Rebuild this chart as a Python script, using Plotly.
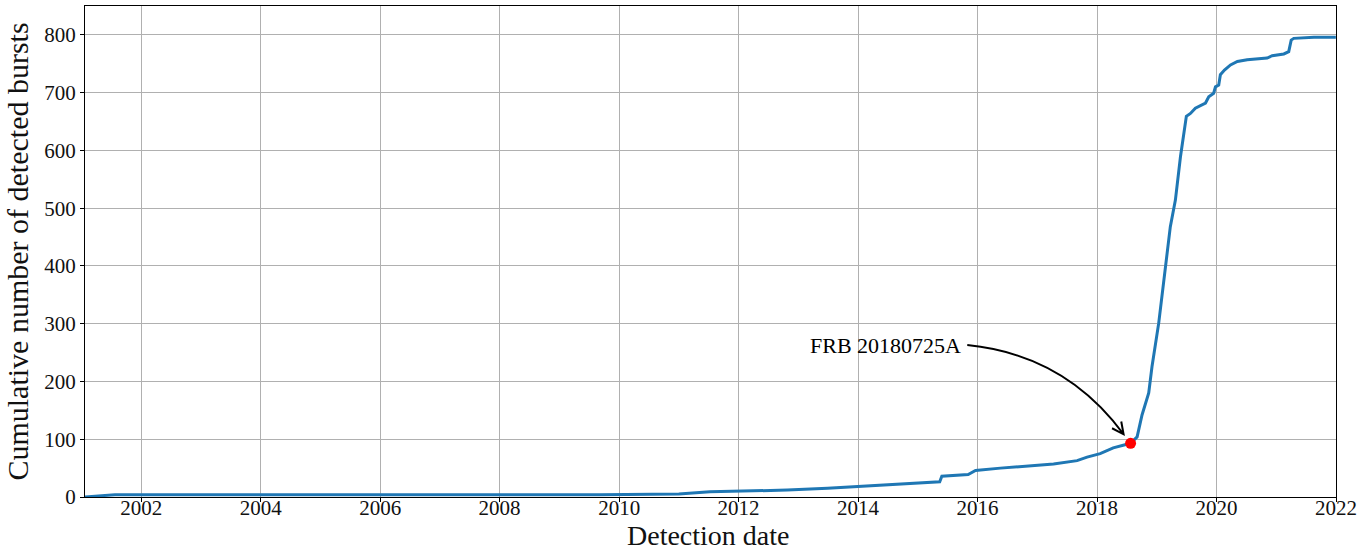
import plotly.graph_objects as go
import pandas as pd
import math

# ---- data ----
dates = ["2001-01-22", "2001-07-24", "2009-09-01", "2011-01-01", "2011-07-10",
         "2012-10-25", "2013-06-28", "2014-01-01", "2014-11-15", "2015-05-15",
         "2015-05-28", "2015-11-05", "2015-12-20", "2016-05-20", "2017-04-10",
         "2017-09-01", "2017-11-01", "2018-01-20", "2018-04-10", "2018-07-25",
         "2018-09-03", "2018-10-03", "2018-11-13", "2018-12-03", "2019-01-13",
         "2019-02-13", "2019-03-05", "2019-03-25", "2019-04-25", "2019-05-15",
         "2019-05-26", "2019-07-01", "2019-07-26", "2019-08-25", "2019-10-26",
         "2019-11-15", "2019-12-15", "2019-12-26", "2020-01-15", "2020-01-25",
         "2020-02-19", "2020-03-27", "2020-05-08", "2020-07-07", "2020-11-06",
         "2020-12-07", "2021-02-16", "2021-03-18", "2021-04-02", "2021-04-18",
         "2021-08-19", "2021-12-31"]
cumulative = [0, 4, 4, 5, 9,
              12, 15, 18, 24, 26.5,
              36, 39, 46, 50, 57,
              63, 69, 75, 85, 93,
              104, 142, 180, 226, 301,
              376, 428, 468, 514, 566,
              589, 659, 664, 673, 682,
              693, 699, 710, 713, 731,
              739, 748, 754, 757, 760,
              764, 767, 771, 791, 794,
              796, 796]

highlight_name = "FRB 20180725A"
highlight_date = "2018-07-25"
highlight_value = 93
label_date = "2015-10-06"
label_value = 263

x_title = "Detection date"
y_title = "Cumulative number of detected bursts"
x_range = ["2001-01-22", "2022-01-01"]
y_range = [0, 850]
y_ticks = [0, 100, 200, 300, 400, 500, 600, 700, 800]

# ---- layout geometry ----
W, H = 1369, 553
ML, MR, MT, MB = 85, 33, 6, 56
PW, PH = W - ML - MR, H - MT - MB

FONT = "Liberation Serif"
BLUE = "#1f77b4"

x0 = pd.Timestamp(x_range[0]).value
x1 = pd.Timestamp(x_range[1]).value


def to_px(d, v):
    fx = (pd.Timestamp(d).value - x0) / (x1 - x0)
    fy = (v - y_range[0]) / (y_range[1] - y_range[0])
    return ML + fx * PW, MT + (1 - fy) * PH


def to_paper(px, py):
    return (px - ML) / PW, (MT + PH - py) / PH


fig = go.Figure()
fig.add_trace(go.Scatter(x=dates, y=cumulative, mode="lines",
                         line=dict(color=BLUE, width=3), showlegend=False,
                         hoverinfo="x+y"))
fig.add_trace(go.Scatter(x=[highlight_date], y=[highlight_value], mode="markers",
                         marker=dict(color="red", size=11), showlegend=False))

# curved arrow from label to highlighted point
sx, sy = to_px(label_date, label_value)
sx += 4
tx, ty = to_px(highlight_date, highlight_value)
ex, ey = tx - 7, ty - 9
mx, my = (sx + ex) / 2, (sy + ey) / 2
dx, dy = ex - sx, ey - sy
L = (dx ** 2 + dy ** 2) ** 0.5
nx, ny = dy / L, -dx / L
cx, cy = mx + 40 * nx, my + 40 * ny
ux, uy = ex - cx, ey - cy
ul = (ux ** 2 + uy ** 2) ** 0.5
ux, uy = ux / ul, uy / ul
hl, ang = 13, math.radians(26)


def rot(x, y, a):
    return x * math.cos(a) - y * math.sin(a), x * math.sin(a) + y * math.cos(a)


h1 = rot(-ux, -uy, ang)
h2 = rot(-ux, -uy, -ang)
p = lambda x, y: "%.5f,%.5f" % to_paper(x, y)
path = ("M " + p(sx, sy) + " Q " + p(cx, cy) + " " + p(ex, ey) +
        " M " + p(ex + hl * h1[0], ey + hl * h1[1]) + " L " + p(ex, ey) +
        " L " + p(ex + hl * h2[0], ey + hl * h2[1]))
fig.add_shape(type="path", path=path, xref="paper", yref="paper",
              line=dict(color="black", width=2))

fig.add_annotation(x=label_date, y=label_value, text=highlight_name,
                   showarrow=False, xanchor="right", yanchor="middle",
                   font=dict(family=FONT, size=22, color="black"))

# x-axis title as an annotation at the bottom edge
fig.add_annotation(x=0.5, y=-MB / PH, xref="paper", yref="paper", text=x_title,
                   showarrow=False, xanchor="center", yanchor="bottom",
                   xshift=-3, font=dict(family=FONT, size=28, color="#111"))

axis_common = dict(showline=True, linecolor="black", linewidth=1, mirror=True,
                   ticks="outside", ticklen=4, tickcolor="black",
                   showgrid=True, gridcolor="#b0b0b0", gridwidth=1,
                   zeroline=False, tickfont=dict(family=FONT, size=21, color="#111"))

fig.update_xaxes(type="date", range=x_range, dtick="M24", tick0="2002-01-01",
                 tickformat="%Y", ticklabelstandoff=-12, **axis_common)
fig.update_yaxes(range=y_range, tickvals=y_ticks,
                 title=dict(text=y_title,
                            font=dict(family=FONT, size=30, color="#111"), standoff=6),
                 **axis_common)

fig.update_layout(width=W, height=H, margin=dict(l=ML, r=MR, t=MT, b=MB, autoexpand=False),
                  plot_bgcolor="white", paper_bgcolor="white",
                  font=dict(family=FONT))
fig.write_html("out.html", config={"displayModeBar": False},
               post_script="document.body.style.margin='0';document.body.style.overflow='hidden';")
